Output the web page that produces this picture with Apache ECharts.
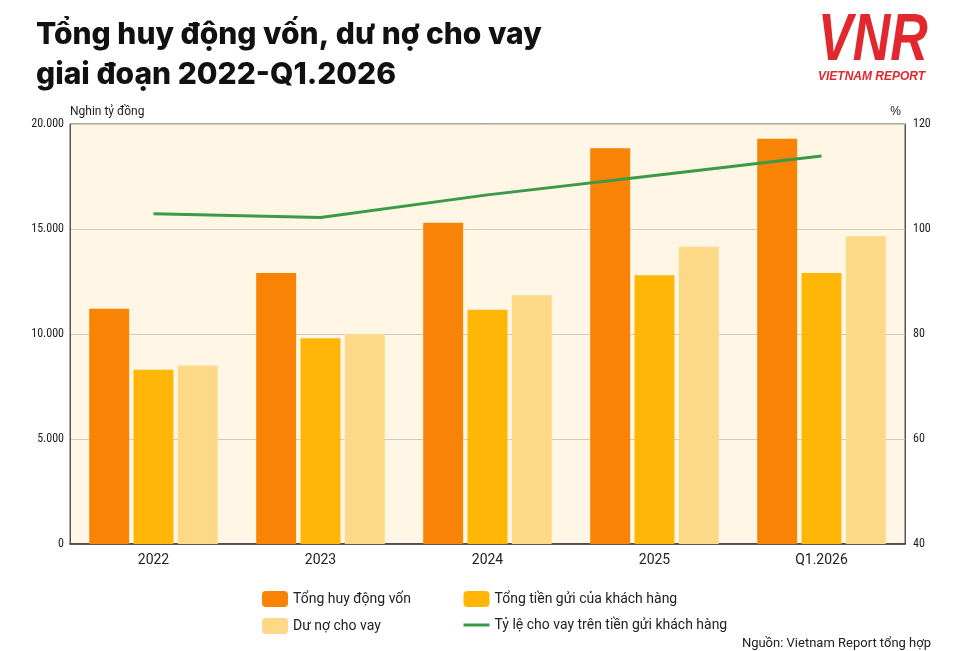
<!DOCTYPE html>
<html>
<head>
<meta charset="utf-8">
<script src="https://cdn.jsdelivr.net/npm/echarts@6/dist/echarts.min.js"></script>
<style>
  html, body { margin: 0; padding: 0; background: #fff; }
  #chart { width: 963px; height: 651px; }
</style>
</head>
<body>
<div id="chart"></div>
<script>
const categories = ['2022', '2023', '2024', '2025', 'Q1.2026']
const tongHuyDong = [11200, 12900, 15300, 18850, 19300]
const tienGuiKH = [8300, 9800, 11150, 12800, 12900]
const duNo = [8500, 10000, 11850, 14150, 14650]
const tyLe = [102.9, 102.2, 106.5, 110.2, 113.9]

const chart = echarts.init(document.getElementById('chart'))

const axisFont = '"Liberation Sans Narrow", "Roboto Condensed", "Roboto", sans-serif'
const fmt = v => v === 0 ? '0' : v.toLocaleString('de-DE')

const option = {
  backgroundColor: '#ffffff',
  animation: false,
  title: {
    text: 'Tổng huy động vốn, dư nợ cho vay\ngiai đoạn 2022-Q1.2026',
    left: 31,
    top: 10,
    textStyle: {
      fontFamily: 'Inter, sans-serif',
      fontWeight: 800,
      fontSize: 30,
      lineHeight: 40,
      color: '#111',
    },
  },
  graphic: [
    {
      type: 'text', left: 818, top: 8, scaleY: 1.3,
      style: { text: 'VNR', fontFamily: '"Liberation Sans", sans-serif', fontWeight: 'bold', fontStyle: 'italic', fontSize: 52, fill: '#E0282E' },
    },
    {
      type: 'text', left: 818, top: 71,
      style: { text: 'VIETNAM REPORT', fontFamily: '"Liberation Sans", sans-serif', fontWeight: 'bold', fontStyle: 'italic', fontSize: 12, fill: '#E0282E' },
    },
    {
      type: 'text', right: 32, top: 637,
      style: { text: 'Nguồn: Vietnam Report tổng hợp', fontFamily: 'Roboto, sans-serif', fontSize: 13, fill: '#222' },
    },
  ],
  grid: {
    left: 70, right: 58, top: 124, bottom: 107,
    show: true,
    backgroundColor: '#FFF6E5',
    borderColor: '#555',
    borderWidth: 1,
  },
  legend: [
    {
      left: 257, top: 586, orient: 'vertical', itemGap: 11,
      itemWidth: 26, itemHeight: 16,
      data: ['Tổng huy động vốn', 'Dư nợ cho vay'],
      textStyle: { fontFamily: 'Roboto, sans-serif', fontSize: 14, color: '#222' },
    },
    {
      left: 457, top: 586, orient: 'vertical', itemGap: 11,
      itemWidth: 26, itemHeight: 16,
      data: [
        'Tổng tiền gửi của khách hàng',
        { name: 'Tỷ lệ cho vay trên tiền gửi khách hàng', itemStyle: { opacity: 0 }, lineStyle: { width: 3 } },
      ],
      textStyle: { fontFamily: 'Roboto, sans-serif', fontSize: 14, color: '#222' },
    },
  ],
  xAxis: {
    type: 'category',
    data: categories,
    axisLine: { lineStyle: { color: '#333', width: 1.5 } },
    axisTick: { show: false },
    axisLabel: { color: '#222', fontSize: 14, margin: 9, fontFamily: 'Roboto, sans-serif' },
  },
  yAxis: [
    {
      type: 'value', min: 0, max: 20000, interval: 5000,
      name: 'Nghin tỷ đồng',
      nameLocation: 'end',
      nameGap: 6,
      nameTextStyle: { align: 'left', color: '#222', fontSize: 12, fontFamily: 'Roboto, sans-serif' },
      axisLine: { show: true, lineStyle: { color: '#555' } },
      axisTick: { show: false },
      splitLine: { lineStyle: { color: '#D2C9B6', width: 1 } },
      axisLabel: { color: '#222', fontSize: 12, margin: 6, fontFamily: axisFont, formatter: fmt },
    },
    {
      type: 'value', min: 40, max: 120, interval: 20,
      name: '%',
      nameLocation: 'end',
      nameGap: 6,
      nameTextStyle: { align: 'right', color: '#222', fontSize: 12, padding: [0, 4, 0, 0] },
      axisLine: { show: true, lineStyle: { color: '#555' } },
      axisTick: { show: false },
      splitLine: { show: false },
      axisLabel: { color: '#222', fontSize: 12, margin: 8, fontFamily: axisFont },
    },
  ],
  series: [
    {
      name: 'Tổng huy động vốn', type: 'bar', data: tongHuyDong,
      itemStyle: { color: '#F98304' }, barGap: '11%', barCategoryGap: '23%',
    },
    {
      name: 'Tổng tiền gửi của khách hàng', type: 'bar', data: tienGuiKH,
      itemStyle: { color: '#FFB606' },
    },
    {
      name: 'Dư nợ cho vay', type: 'bar', data: duNo,
      itemStyle: { color: '#FDD887' },
    },
    {
      name: 'Tỷ lệ cho vay trên tiền gửi khách hàng', type: 'line', yAxisIndex: 1, data: tyLe,
      symbol: 'none',
      lineStyle: { color: '#3A9A48', width: 3 },
      itemStyle: { color: '#3A9A48' },
    },
  ],
}

chart.setOption(option)
window.addEventListener('resize', () => chart.resize())
</script>
</body>
</html>
